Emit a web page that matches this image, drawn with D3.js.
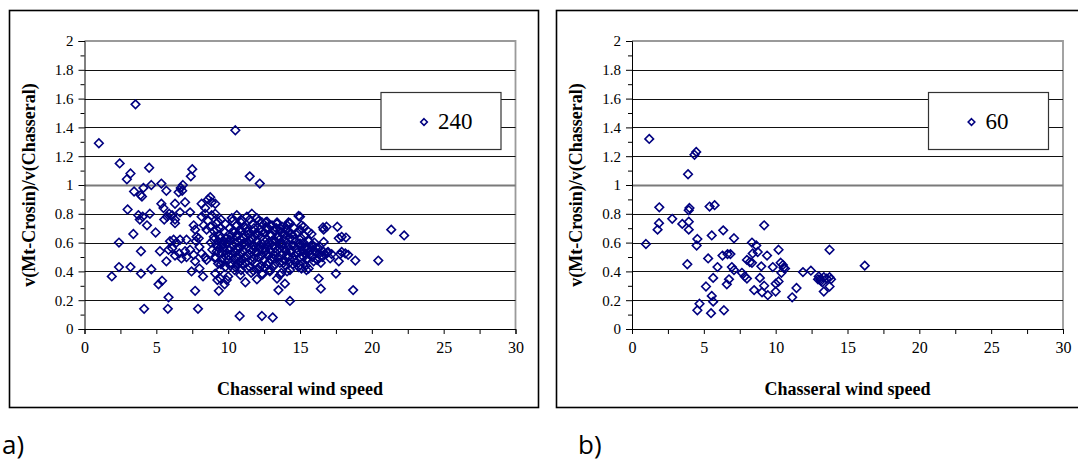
<!DOCTYPE html>
<html><head><meta charset="utf-8">
<script src="https://cdn.jsdelivr.net/npm/d3@7"></script>
<style>
body{margin:0;background:#fff;overflow:hidden} svg{display:block}
</style>
</head><body>
<svg id="c" width="1078" height="463"></svg>
<script>
// ---------- data ----------
const xTicks = [0, 5, 10, 15, 20, 25, 30];
const yTicks = [0, 0.2, 0.4, 0.6, 0.8, 1, 1.2, 1.4, 1.6, 1.8, 2];
const panelLabels = ["a)", "b)"];
const legendNames = ["240", "60"];
const xTitle = "Chasseral wind speed";
const yTitle = "v(Mt-Crosin)/v(Chasseral)";

// [Chasseral wind speed, ratio]
const series240 = [
[1.0,1.29],[3.55,1.56],[10.5,1.38],[2.45,1.15],[4.5,1.12],[3.2,1.08],[2.95,1.04],[7.5,1.11],[7.4,1.06],[11.5,1.06],[12.2,1.01],[4.65,1.0],[5.35,1.01],[4.1,0.98],[6.7,0.98],[6.85,1.0],[6.8,0.96],[3.45,0.955],[3.9,0.93],[4.0,0.92],[5.7,0.96],[6.55,0.95],
[3.0,0.83],[3.75,0.79],[3.85,0.76],[4.05,0.78],[4.55,0.8],[4.35,0.72],[4.95,0.67],[3.4,0.66],[2.4,0.6],[3.93,0.54],[2.4,0.43],[3.2,0.43],[4.65,0.415],[1.9,0.365],[3.93,0.385],[4.15,0.14],[5.8,0.14],[7.9,0.14],[5.85,0.22],[5.15,0.31],[5.4,0.335],[5.25,0.54],[5.7,0.47],
[5.35,0.87],[5.5,0.84],[6.3,0.87],[7.0,0.88],[7.35,0.81],[6.65,0.81],[5.9,0.8],[6.3,0.76],[6.1,0.79],[5.75,0.78],[5.55,0.76],[6.3,0.735],
[5.95,0.61],[6.2,0.62],[6.4,0.6],[6.65,0.62],[5.85,0.55],[6.1,0.56],[6.75,0.49],[6.6,0.525],[6.3,0.51],[7.1,0.62],[7.1,0.5],[7.0,0.54],[7.35,0.55],[7.6,0.515],[7.7,0.47],[7.75,0.61],[7.45,0.4],[7.7,0.265],[8.0,0.42],[8.25,0.365],[7.95,0.63],[8.0,0.57],[8.15,0.525],[8.4,0.5],[8.5,0.48],[7.6,0.72],[7.7,0.69],[7.8,0.64],
[8.15,0.87],[8.4,0.84],[8.6,0.9],[8.85,0.88],[9.1,0.87],[8.75,0.915],[8.15,0.78],[8.4,0.8],[8.6,0.75],[8.85,0.79],[9.1,0.8],[9.3,0.745],[8.3,0.72],[8.5,0.69],[8.75,0.71],[9.0,0.68],[9.2,0.735],[9.45,0.7],
[9.0,0.62],[9.2,0.585],[9.45,0.63],[9.65,0.56],[9.9,0.595],[9.2,0.54],[9.1,0.49],[9.3,0.455],[9.55,0.47],[9.8,0.43],[10.0,0.48],[9.45,0.41],[9.1,0.385],[9.45,0.35],[9.9,0.34],[9.25,0.34],[9.35,0.265],[9.75,0.31],[10.0,0.365],
[10.8,0.09],[12.35,0.09],[13.1,0.08],[11.2,0.325],[12.0,0.345],[10.5,0.43],[10.7,0.455],
[10.25,0.77],[10.6,0.79],[10.95,0.755],[11.3,0.78],[11.65,0.8],[12.0,0.77],[12.35,0.74],[12.7,0.745],[13.05,0.72],[13.4,0.74],[13.75,0.71],[14.1,0.72],[14.3,0.735],[14.9,0.785],[15.0,0.69],[15.25,0.71],[15.6,0.675],
[13.4,0.35],[13.6,0.375],[13.95,0.315],[13.5,0.27],[14.3,0.195],[12.35,0.385],[12.9,0.41],[12.2,0.43],[11.75,0.405],[11.3,0.42],[10.85,0.375],
[21.35,0.69],[22.25,0.65],[20.45,0.475],[18.7,0.27],[16.45,0.28],[16.3,0.35],[17.5,0.385],[16.6,0.705],[16.85,0.71],[16.65,0.69],[17.6,0.71],[17.7,0.63],[17.9,0.64],[18.2,0.635],[18.85,0.475],[17.8,0.52],[17.9,0.535],[18.15,0.525],[17.7,0.47],[18.35,0.515],[16.65,0.605],
[16.6,0.54],[16.7,0.52],[16.9,0.53],[16.55,0.5],[16.3,0.52],[16.2,0.48],[16.05,0.54],[15.95,0.47],[16.45,0.46],[16.1,0.565],[15.8,0.58],[15.5,0.55],
[15.0,0.78],[15.1,0.72],[15.0,0.595],[15.1,0.57],[15.35,0.56],[15.6,0.535],[15.25,0.5],[15.45,0.48],[15.0,0.445],[15.1,0.42],[15.45,0.41],[17.1,0.49],[16.95,0.535],[17.2,0.52],[15.6,0.42],
[10.3,0.75],[10.9,0.74],[11.5,0.76],[11.7,0.73],[12.1,0.75],[12.6,0.74],[12.9,0.72],[13.4,0.73],[13.6,0.7],[14.2,0.74],[14.6,0.7],[11.1,0.71],[10.6,0.72],[9.8,0.73],[9.5,0.76],
[9.2,0.69],[9.7,0.68],[10.1,0.7],[10.4,0.67],[10.8,0.69],[11.3,0.68],[11.8,0.7],[12.2,0.69],[12.5,0.67],[12.8,0.7],[13.2,0.68],[13.7,0.67],[14.0,0.69],[14.4,0.66],[14.8,0.67],[15.3,0.65],[15.8,0.66],
[9.0,0.64],[9.4,0.65],[9.9,0.63],[10.2,0.65],[10.6,0.64],[10.9,0.62],[11.2,0.65],[11.6,0.63],[11.9,0.66],[12.3,0.64],[12.7,0.62],[13.0,0.65],[13.5,0.64],[13.9,0.62],[14.3,0.63],[14.7,0.61],[15.1,0.63],[15.6,0.61],[16.0,0.6],
[8.8,0.6],[9.3,0.61],[9.6,0.59],[10.0,0.6],[10.3,0.58],[10.7,0.61],[11.0,0.59],[11.4,0.6],[11.7,0.58],[12.0,0.61],[12.4,0.59],[12.8,0.6],[13.1,0.58],[13.3,0.61],[13.8,0.59],[14.1,0.6],[14.5,0.58],[14.9,0.59],[15.4,0.57],[15.9,0.58],[16.3,0.56],
[8.9,0.55],[9.4,0.56],[9.8,0.54],[10.1,0.55],[10.5,0.53],[10.8,0.56],[11.1,0.54],[11.5,0.55],[11.9,0.53],[12.2,0.56],[12.6,0.54],[12.9,0.55],[13.3,0.53],[13.6,0.56],[14.0,0.54],[14.4,0.55],[14.8,0.53],[15.2,0.54],[15.7,0.52],[16.1,0.53],[16.5,0.51],
[9.1,0.5],[9.6,0.49],[10.0,0.51],[10.4,0.49],[10.7,0.5],[11.0,0.48],[11.3,0.51],[11.8,0.49],[12.1,0.5],[12.5,0.48],[12.8,0.51],[13.2,0.49],[13.5,0.5],[13.9,0.48],[14.2,0.5],[14.6,0.48],[15.0,0.5],[15.5,0.49],[16.2,0.48],
[9.5,0.45],[10.2,0.46],[10.6,0.44],[11.0,0.45],[11.5,0.43],[11.9,0.46],[12.3,0.44],[12.7,0.45],[13.1,0.43],[13.6,0.46],[14.0,0.44],[14.5,0.45],[14.9,0.43],[15.4,0.44],
[10.9,0.41],[11.6,0.39],[12.4,0.38],[12.9,0.4],[13.7,0.39],[14.3,0.41],[14.1,0.4],
[10.1,0.62],[10.45,0.6],[10.75,0.57],[11.05,0.63],[11.35,0.57],[11.55,0.61],[11.85,0.64],[12.15,0.58],[12.45,0.62],[12.75,0.57],[13.05,0.61],[13.25,0.56],[13.55,0.62],[13.85,0.56],[14.15,0.57],[14.45,0.62],
[10.2,0.52],[10.55,0.5],[10.85,0.53],[11.2,0.5],[11.45,0.52],[11.75,0.55],[12.05,0.53],[12.35,0.51],[12.65,0.52],[12.95,0.48],[13.25,0.51],[13.45,0.55],[13.75,0.52],[14.05,0.51],[14.35,0.53],[14.65,0.51],
[10.35,0.68],[10.65,0.66],[10.95,0.68],[11.25,0.7],[11.45,0.66],[11.75,0.68],[12.05,0.66],[12.35,0.68],[12.65,0.7],[12.95,0.66],[13.35,0.7],[13.6,0.68],[13.9,0.66],[14.2,0.67],[14.5,0.65],
[9.7,0.61],[9.85,0.52],[9.55,0.53],[9.25,0.57],[10.15,0.44],[10.45,0.41],[10.8,0.47],[11.25,0.46],[11.65,0.47],[12.05,0.42],[12.55,0.43],[12.85,0.46],[13.25,0.45],[13.85,0.46],[14.25,0.46],[14.7,0.46],
[11.9,0.57],[12.55,0.56],[11.15,0.6],[13.65,0.6],[10.55,0.56],[14.75,0.56],[15.25,0.6],[15.75,0.55],[15.35,0.52],[15.85,0.5]
];

const series60 = [
[1.2,1.32],[4.47,1.23],[4.35,1.21],[3.9,1.075],[1.9,0.845],[4.0,0.84],[3.95,0.825],[5.4,0.85],[5.75,0.86],[1.88,0.735],[1.78,0.69],[2.8,0.765],[3.5,0.73],[3.95,0.745],[3.95,0.69],[0.97,0.59],[4.55,0.625],[4.5,0.58],[9.2,0.72],[5.55,0.65],[6.35,0.685],[7.1,0.63],[8.35,0.6],[8.65,0.58],[10.2,0.55],[13.75,0.55],
[3.85,0.45],[5.3,0.49],[5.95,0.43],[6.3,0.51],[6.65,0.52],[6.85,0.52],[6.95,0.43],[7.1,0.41],[5.65,0.355],[6.75,0.345],[6.6,0.31],[5.15,0.295],[5.55,0.23],[5.65,0.19],[4.7,0.175],[4.55,0.13],[5.5,0.11],[6.4,0.13],
[7.65,0.39],[7.85,0.365],[8.0,0.35],[8.0,0.48],[8.2,0.465],[8.4,0.525],[8.35,0.46],[8.75,0.535],[9.0,0.435],[9.4,0.51],[8.5,0.27],[8.9,0.355],[9.2,0.3],[9.05,0.255],[9.45,0.235],[9.8,0.43],[10.0,0.26],[10.0,0.315],[10.2,0.33],
[10.35,0.46],[10.5,0.445],[10.55,0.425],[10.4,0.39],[10.65,0.42],[11.15,0.22],[11.45,0.285],[11.9,0.395],[12.45,0.405],
[13.0,0.365],[13.1,0.345],[13.15,0.335],[13.35,0.36],[13.55,0.35],[13.75,0.36],[13.85,0.345],[12.95,0.345],[13.25,0.325],[13.35,0.26],[13.75,0.295],[16.2,0.44]
];

// ---------- drawing ----------
const svg = d3.select("#c");
const SERIF = '"Liberation Serif","DejaVu Serif","Times New Roman",serif';
const SANS = '"Open Sans","Noto Sans",sans-serif';
const NAVY = "#000080";
const diamond = r => `M0,${-r}L${r},0L0,${r}L${-r},0Z`;
const serifText = (sel, size, bold) => sel.style("font-family", SERIF)
  .style("font-size", size + "px").style("font-weight", bold ? "bold" : "normal").attr("fill", "#000");

const panels = [
  { data: series240, name: legendNames[0], label: panelLabels[0],
    frame: {x: 9.5, y: 10.5, w: 529, h: 397}, px0: 84.5, px1: 515.5, labelX: 2 },
  { data: series60, name: legendNames[1], label: panelLabels[1],
    frame: {x: 556.5, y: 10.5, w: 540, h: 397}, px0: 632, px1: 1063, labelX: 578 }
];
const PY0 = 41, PY1 = 329;

panels.forEach(p => {
  const g = svg.append("g");
  g.append("rect").attr("x", p.frame.x).attr("y", p.frame.y)
    .attr("width", p.frame.w).attr("height", p.frame.h)
    .attr("fill", "#fff").attr("stroke", "#000").attr("stroke-width", 1.6);

  const x = d3.scaleLinear().domain([0, 30]).range([p.px0, p.px1]);
  const y = d3.scaleLinear().domain([0, 2]).range([PY1, PY0]);

  // plot area border (grey top/right)
  g.append("path")
    .attr("d", `M${p.px0},${PY0}H${p.px1}V${PY1}`)
    .attr("fill", "none").attr("stroke", "#9a9a9a").attr("stroke-width", 1.8);

  // gridlines
  g.append("g").selectAll("line").data(yTicks.filter(t => t > 0 && t < 2)).join("line")
    .attr("x1", p.px0).attr("x2", p.px1)
    .attr("y1", d => Math.round(y(d)) + 0.5).attr("y2", d => Math.round(y(d)) + 0.5)
    .attr("stroke", d => d === 1 ? "#7a7a7a" : "#111")
    .attr("stroke-width", d => d === 1 ? 2 : 1);

  // y axis
  const yAxis = g.append("g").attr("transform", `translate(${p.px0},0)`)
    .call(d3.axisLeft(y).tickValues(yTicks).tickSize(6).tickPadding(5)
      .tickFormat(d => String(+d.toFixed(1))));
  yAxis.select(".domain").attr("stroke", "#000");
  serifText(yAxis.selectAll("text"), 15, false);
  g.append("g").attr("transform", `translate(${p.px0},0)`)
    .call(d3.axisLeft(y).tickValues(d3.range(0.1, 2, 0.2)).tickSize(4).tickFormat(""))
    .select(".domain").remove();

  // x axis
  const xAxis = g.append("g").attr("transform", `translate(0,${PY1})`)
    .call(d3.axisBottom(x).tickValues(xTicks).tickSize(5).tickPadding(8).tickFormat(d3.format("d")));
  xAxis.select(".domain").attr("stroke", "#000");
  serifText(xAxis.selectAll("text"), 16, false);
  g.append("g").attr("transform", `translate(0,${PY1})`)
    .call(d3.axisBottom(x).tickValues(d3.range(2.5, 30, 5)).tickSize(5).tickFormat(""))
    .select(".domain").remove();

  // points
  g.append("g").selectAll("path").data(p.data).join("path")
    .attr("transform", d => `translate(${x(d[0])},${y(d[1])})`)
    .attr("d", diamond(4.3))
    .attr("fill", "none").attr("stroke", NAVY).attr("stroke-width", 1.6);

  // legend
  const lx = p.px1 - 134.5, ly = 92.5;
  g.append("rect").attr("x", lx).attr("y", ly).attr("width", 120).attr("height", 57)
    .attr("fill", "#fff").attr("stroke", "#333").attr("stroke-width", 1.2);
  g.append("path").attr("transform", `translate(${lx + 43},${ly + 29.5})`)
    .attr("d", diamond(3.3)).attr("fill", "none").attr("stroke", NAVY).attr("stroke-width", 1.6);
  serifText(g.append("text").attr("x", lx + 57).attr("y", ly + 36), 23, false).text(p.name);

  // axis titles
  serifText(g.append("text").attr("x", (p.px0 + p.px1) / 2).attr("y", 395)
    .attr("text-anchor", "middle"), 18, true).text(xTitle);
  serifText(g.append("text")
    .attr("transform", `translate(${p.px0 - 50},${(PY0 + PY1) / 2}) rotate(-90)`)
    .attr("text-anchor", "middle"), 18, true).text(yTitle);

  // panel label
  svg.append("text").attr("x", p.labelX).attr("y", 454)
    .style("font-family", SANS).style("font-size", "26px").attr("fill", "#000").text(p.label);
});
</script>
</body></html>
